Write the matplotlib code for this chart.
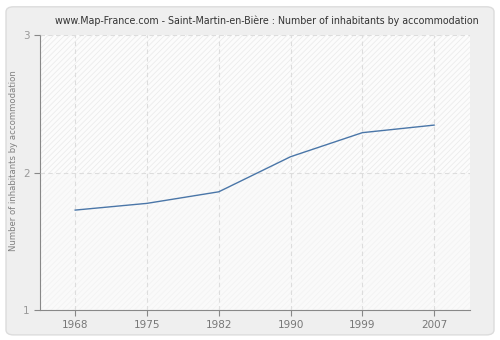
import matplotlib
matplotlib.use("Agg")
import matplotlib.pyplot as plt
from matplotlib.patches import FancyBboxPatch

# data
years = ['1968', '1975', '1982', '1990', '1999', '2007']
inhabitants = [1.727, 1.776, 1.86, 2.115, 2.29, 2.345]

plt.rcParams['hatch.linewidth'] = 0.6

fig = plt.figure(figsize=(5, 3.4), dpi=100)
fig.patch.set_facecolor('white')

# rounded grey panel behind everything
panel = FancyBboxPatch((0.012, 0.015), 0.976, 0.965, boxstyle="round,pad=0,rounding_size=0.015",
                       transform=fig.transFigure, facecolor='#efefef', edgecolor='#dcdcdc', lw=1,
                       zorder=-10)
fig.patches.append(panel)

ax = fig.add_axes([0.08, 0.088, 0.86, 0.809])
ax.set_zorder(5)
ax.set_facecolor('#fcfcfc')
ax.patch.set_hatch('//////')
ax.patch.set_edgecolor('#ececec')
# lower band is paler in the reference
ax.axhspan(1, 2, facecolor='#fafafa', edgecolor='#f3f3f3', hatch='//////', lw=0, zorder=0)

x = list(range(len(years)))
ax.plot(x, inhabitants, color='#4a76a8', lw=1, zorder=3)

ax.set_xlim(-0.49, 5.5)
ax.set_ylim(1, 3)
ax.set_xticks(x)
ax.set_xticklabels(years)
ax.set_yticks([1, 2, 3])
ax.grid(True, color='#dddddd', linestyle=(0, (4, 3)), lw=0.8, zorder=1)
ax.set_axisbelow(False)

for s in ['top', 'right']:
    ax.spines[s].set_visible(False)
for s in ['left', 'bottom']:
    ax.spines[s].set_color('#888888')
ax.tick_params(colors='#888888', labelsize=7.5, length=4, width=0.8)
ax.tick_params(axis='x', labelcolor='#777777')
ax.tick_params(axis='y', labelcolor='#999999')

ax.set_ylabel('Number of inhabitants by accommodation', fontsize=6.1, color='#808080')
ax.yaxis.set_label_coords(-0.052, 0.545)
fig.text(0.533, 0.938, 'www.Map-France.com - Saint-Martin-en-Bière : Number of inhabitants by accommodation',
         fontsize=6.85, color='#333333', ha='center', va='center')

fig.savefig('out.png', dpi=100, facecolor=fig.get_facecolor())
